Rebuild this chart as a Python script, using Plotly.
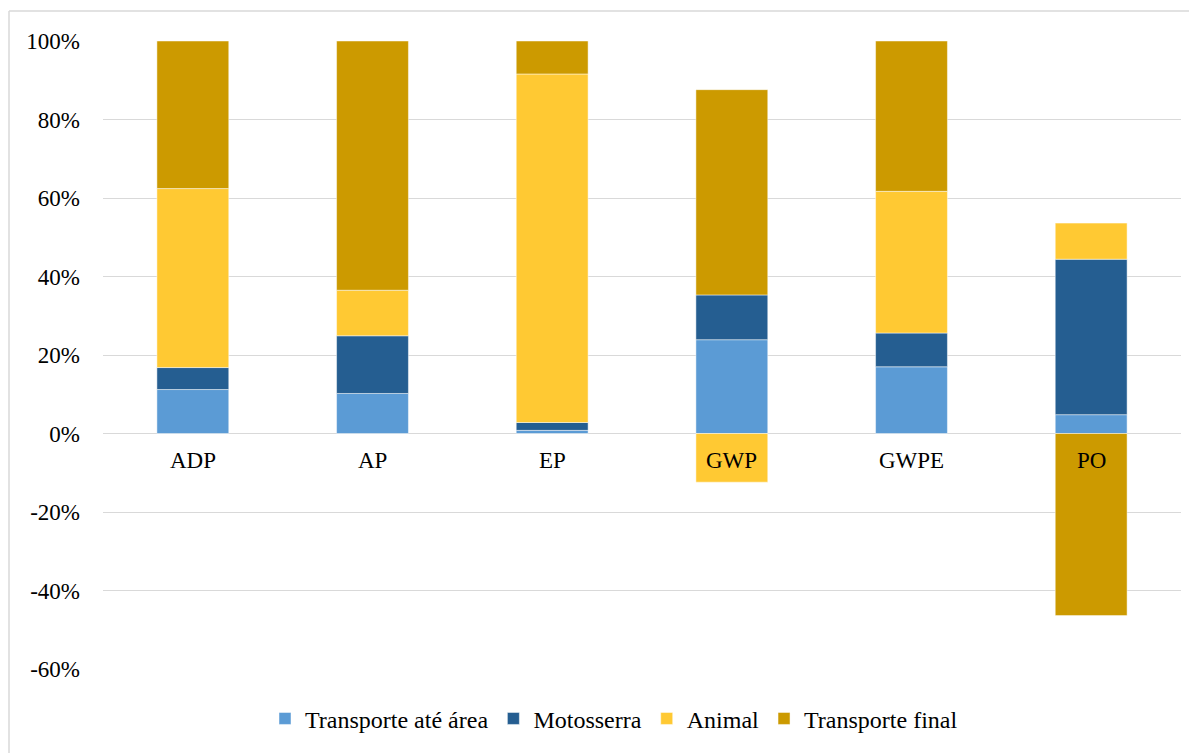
import plotly.graph_objects as go

categories = ["ADP", "AP", "EP", "GWP", "GWPE", "PO"]
transporte_ate_area = [0.112, 0.102, 0.008, 0.239, 0.170, 0.048]
motosserra = [0.056, 0.147, 0.020, 0.114, 0.086, 0.396]
animal = [0.456, 0.116, 0.888, -0.124, 0.361, 0.092]
transporte_final = [0.376, 0.635, 0.084, 0.523, 0.383, -0.464]
tick_vals = [-0.6, -0.4, -0.2, 0.0, 0.2, 0.4, 0.6, 0.8, 1.0]
tick_text = ["-60%", "-40%", "-20%", "0%", "20%", "40%", "60%", "80%", "100%"]

series = [
    ("Transporte até área", transporte_ate_area, "#5B9BD5"),
    ("Motosserra", motosserra, "#255E91"),
    ("Animal", animal, "#FFC933"),
    ("Transporte final", transporte_final, "#CC9A00"),
]

FONT = "Liberation Serif"

fig = go.Figure()
for name, vals, color in series:
    fig.add_trace(go.Bar(
        x=categories, y=vals, name=name,
        marker=dict(color=color, line=dict(color="rgba(255,255,255,0.6)", width=0.8)),
        width=0.4,
    ))

for c in categories:
    fig.add_annotation(x=c, y=0, xref="x", yref="y", text=c, showarrow=False,
                       yanchor="top", yshift=-12, font=dict(family=FONT, size=23, color="#000"))

# page body has an 8px margin; figure placed at (8, 8)
OFF = 8
L, R, T, B = 103 - OFF, 16, 41 - OFF, 82
W, H = 1197 - OFF, 753 - OFF
pw, ph = W - L - R, H - T - B
def px(x):
    return (x - OFF - L) / pw
def py(y):
    return (H - B - (y - OFF)) / ph

fig.add_shape(type="line", xref="paper", yref="paper", x0=px(9), x1=px(1197), y0=py(11), y1=py(11),
              line=dict(color="#D9D9D9", width=1.5))
fig.add_shape(type="line", xref="paper", yref="paper", x0=px(9), x1=px(9), y0=py(11), y1=py(760),
              line=dict(color="#D9D9D9", width=1.5))

fig.update_layout(
    barmode="relative",
    width=W, height=H,
    margin=dict(l=L, r=R, t=T, b=B),
    paper_bgcolor="white", plot_bgcolor="white",
    font=dict(family=FONT, size=23, color="#000"),
    bargap=0.6,
    xaxis=dict(showticklabels=False, showgrid=False, zeroline=False, showline=False, ticks=""),
    yaxis=dict(range=[-0.6, 1.0], tickvals=tick_vals, ticktext=tick_text,
               showgrid=True, gridcolor="#D9D9D9", gridwidth=1.3,
               zeroline=True, zerolinecolor="#D9D9D9", zerolinewidth=1.3,
               showline=False, ticks="", ticklabelstandoff=22,
               tickfont=dict(family=FONT, size=23, color="#000")),
    legend=dict(orientation="h", x=px(614), xanchor="center", y=py(721), yanchor="middle",
                font=dict(family=FONT, size=24, color="#000"), traceorder="normal",
                itemwidth=30, bgcolor="rgba(0,0,0,0)"),
    showlegend=True,
)

fig.write_html("out.html")
